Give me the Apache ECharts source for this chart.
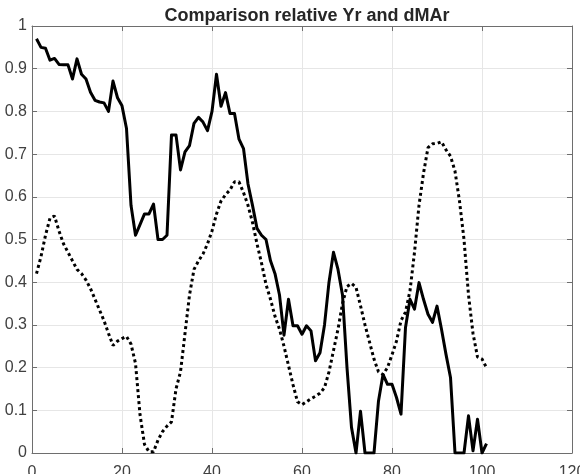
<!DOCTYPE html>
<html>
<head>
<meta charset="utf-8">
<script src="https://cdn.jsdelivr.net/npm/echarts@6/dist/echarts.min.js"></script>
<style>html,body{margin:0;padding:0;background:#fff;}#c{width:580px;height:474px;}</style>
</head>
<body>
<div id="c"></div>
<script>
// Relative Yr (solid), sample index 1..101
var yrValues = [0.97,0.95,0.948,0.92,0.924,0.91,0.909,0.909,0.876,0.923,
0.887,0.876,0.845,0.826,0.822,0.82,0.80,0.871,0.832,0.813,
0.76,0.58,0.51,0.535,0.56,0.56,0.583,0.50,0.50,0.51,
0.745,0.745,0.663,0.705,0.72,0.772,0.786,0.775,0.755,0.80,
0.887,0.812,0.844,0.795,0.795,0.735,0.713,0.63,0.58,0.526,
0.51,0.50,0.45,0.42,0.37,0.276,0.36,0.298,0.298,0.278,
0.298,0.286,0.216,0.235,0.30,0.40,0.47,0.43,0.37,0.20,
0.06,0,0.098,0,0,0,0.122,0.184,0.161,0.161,
0.13,0.091,0.294,0.36,0.337,0.399,0.36,0.325,0.306,0.344,
0.29,0.231,0.177,0,0,0,0.087,0.005,0.079,0,
0.022];
// Relative dMAr (dotted)
var dmarValues = [0.42,0.46,0.51,0.55,0.555,0.52,0.49,0.47,0.45,0.43,
0.42,0.405,0.385,0.36,0.335,0.31,0.28,0.252,0.262,0.268,
0.273,0.255,0.21,0.09,0.02,0.003,0.003,0.03,0.05,0.063,
0.073,0.15,0.19,0.28,0.37,0.43,0.45,0.466,0.49,0.52,
0.56,0.59,0.605,0.616,0.635,0.635,0.61,0.58,0.54,0.49,
0.445,0.395,0.36,0.32,0.29,0.25,0.205,0.16,0.12,0.113,
0.12,0.127,0.133,0.14,0.153,0.19,0.24,0.29,0.35,0.39,
0.397,0.388,0.345,0.30,0.26,0.22,0.19,0.184,0.2,0.23,
0.262,0.31,0.33,0.38,0.47,0.58,0.655,0.715,0.724,0.725,
0.729,0.71,0.695,0.66,0.59,0.50,0.37,0.28,0.225,0.22,
0.2];
var titleText = 'Comparison relative Yr and dMAr';

function toPairs(arr){ return arr.map(function(v,i){ return [i+1, v]; }); }

var chart = echarts.init(document.getElementById('c'), null, {renderer:'canvas'});
var axisCol = '#6e6e6e';
var labelCol = '#404040';
var font = 'Liberation Sans, Arial, sans-serif';
chart.setOption({
  animation: false,
  backgroundColor: '#fff',
  title: {
    text: titleText, left: 302, top: 2, textAlign: 'center',
    textStyle: {fontFamily: font, fontSize: 18, fontWeight: 'bold', color: '#262626'}
  },
  grid: {left: 32, right: 8, top: 26, bottom: 21, containLabel: false, outerBoundsMode: 'none'},
  xAxis: [{
    type: 'value', min: 0, max: 120, interval: 20, position: 'bottom',
    axisLine: {show: true, onZero: false, lineStyle: {color: axisCol, width: 1}},
    axisTick: {show: true, inside: true, length: 5, lineStyle: {color: axisCol}},
    axisLabel: {color: labelCol, fontFamily: font, fontSize: 16, margin: 12},
    splitLine: {show: true, lineStyle: {color: '#e6e6e6', width: 1}}
  },{
    type: 'value', min: 0, max: 120, interval: 20, position: 'top',
    axisLine: {show: true, onZero: false, lineStyle: {color: axisCol, width: 1}},
    axisTick: {show: true, inside: true, length: 5, lineStyle: {color: axisCol}},
    axisLabel: {show: false}, splitLine: {show: false}
  }],
  yAxis: [{
    type: 'value', min: 0, max: 1, interval: 0.1, position: 'left',
    axisLine: {show: true, onZero: false, lineStyle: {color: axisCol, width: 1}},
    axisTick: {show: true, inside: true, length: 5, lineStyle: {color: axisCol}},
    axisLabel: {color: labelCol, fontFamily: font, fontSize: 16, margin: 5,
      formatter: function(v){ return (Math.round(v*10)/10).toString(); }},
    splitLine: {show: true, lineStyle: {color: '#e6e6e6', width: 1}}
  },{
    type: 'value', min: 0, max: 1, interval: 0.1, position: 'right',
    axisLine: {show: true, onZero: false, lineStyle: {color: axisCol, width: 1}},
    axisTick: {show: true, inside: true, length: 5, lineStyle: {color: axisCol}},
    axisLabel: {show: false}, splitLine: {show: false}
  }],
  series: [{
    name: 'Yr', type: 'line', data: toPairs(yrValues), showSymbol: false,
    xAxisIndex: 0, yAxisIndex: 0,
    lineStyle: {color: '#000', width: 3, join: 'round'}
  },{
    name: 'dMAr', type: 'line', data: toPairs(dmarValues), showSymbol: false,
    xAxisIndex: 0, yAxisIndex: 0,
    lineStyle: {color: '#000', width: 3, type: [3, 3]}
  }]
});
</script>
</body>
</html>
